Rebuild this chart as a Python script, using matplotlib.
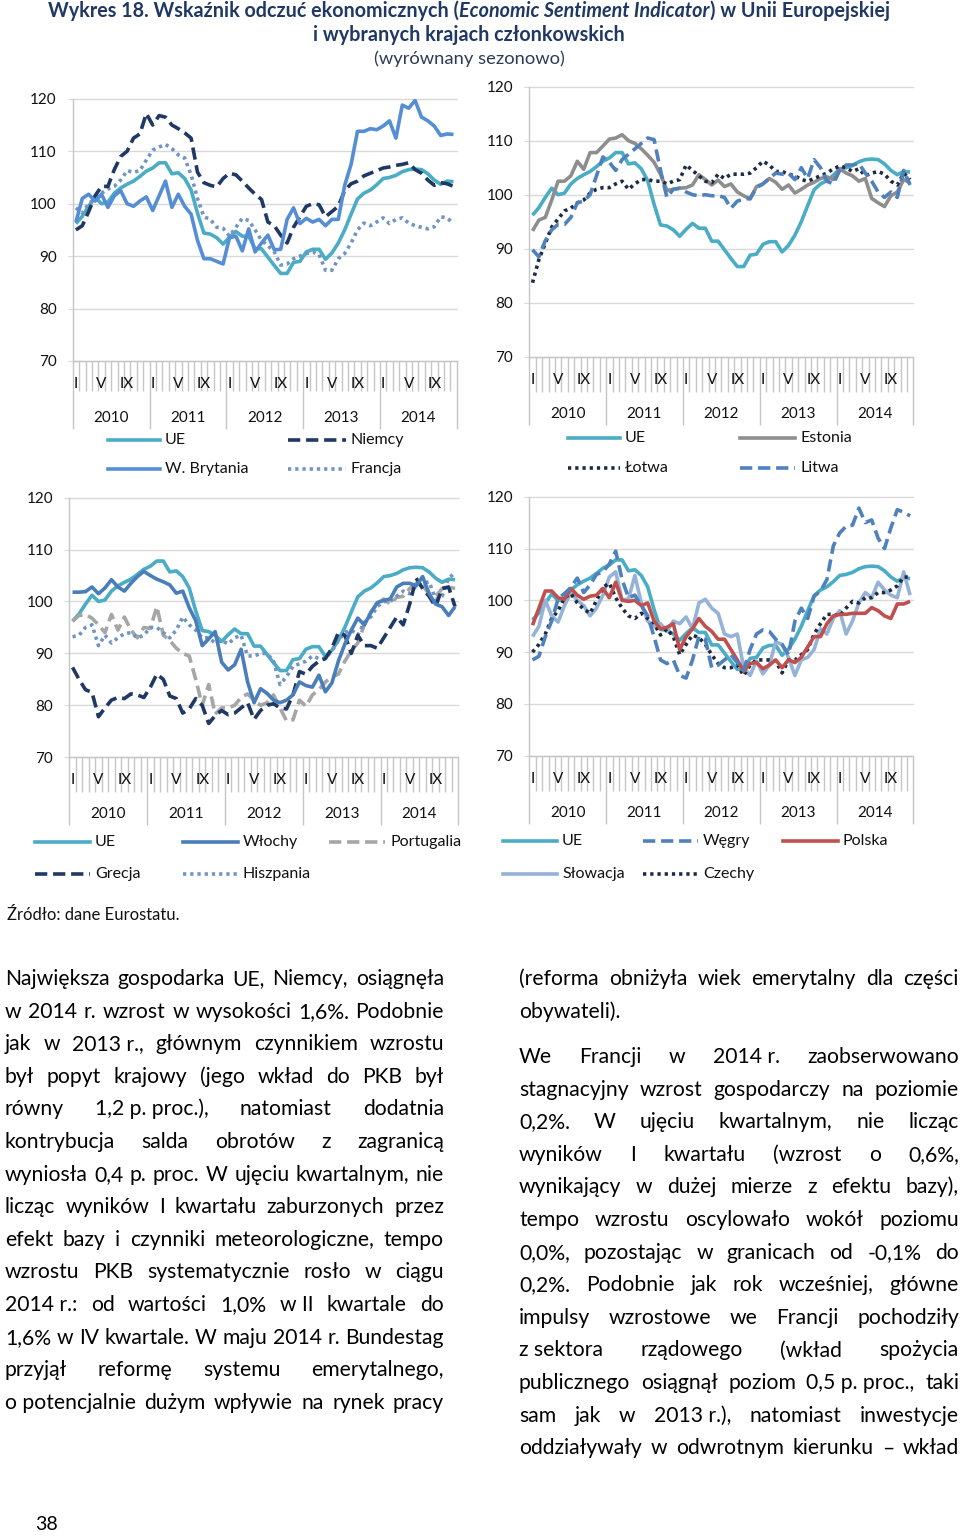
import numpy as np
import matplotlib.pyplot as plt
from matplotlib.lines import Line2D

plt.rcParams['font.family'] = ['Lato', 'DejaVu Sans']

W, H = 960, 1536

# ---- data: Economic Sentiment Indicator, I 2010 - XII 2014 (monthly, s.a.)
months = np.arange(60) + 0.5
month_labels = ['I', 'V', 'IX']
month_pos = [0, 4, 8]
years = ['2010', '2011', '2012', '2013', '2014']

ue = [96.2, 97.6, 99.5, 101.2, 100.0, 100.3, 102.0, 103.0, 103.7, 104.3,
      105.2, 106.2, 106.8, 107.8, 107.8, 105.7, 105.9, 104.8, 102.6, 98.2,
      94.4, 94.2, 93.5, 92.3, 93.6, 94.7, 93.8, 93.8, 91.4, 91.4,
      89.8, 88.2, 86.7, 86.7, 88.8, 89.0, 90.8, 91.3, 91.3, 89.4,
      90.6, 92.5, 95.0, 98.0, 100.9, 102.0, 102.6, 103.6, 104.8, 105.0,
      105.4, 106.1, 106.5, 106.6, 106.5, 105.7, 104.5, 103.7, 104.3, 104.2]

niemcy = [95.0, 95.8, 98.5, 101.5, 103.3, 103.3, 106.5, 109.0, 110.0, 112.5,
          113.3, 117.2, 115.0, 116.8, 116.5, 115.0, 114.3, 113.5, 112.5, 106.0,
          104.0, 103.5, 103.2, 104.8, 105.8, 105.5, 104.3, 103.0, 101.8, 100.8,
          96.5, 95.8, 94.0, 92.5, 95.5, 97.5, 99.5, 100.0, 99.8, 97.5,
          98.5, 99.5, 102.5, 103.8, 104.3, 105.3, 105.8, 106.3, 106.8, 107.0,
          107.3, 107.5, 107.8, 106.5, 105.8, 104.5, 103.5, 104.0, 103.8, 103.3]

w_brytania = [96.5, 101.0, 101.8, 100.5, 101.8, 99.3, 101.5, 102.5, 100.0, 99.5,
              100.5, 101.3, 98.7, 101.5, 104.3, 99.3, 101.8, 99.5, 98.0, 93.0,
              89.5, 89.5, 89.0, 88.5, 93.5, 93.8, 91.0, 95.2, 90.8, 92.5,
              94.0, 91.2, 91.3, 97.0, 99.2, 96.2, 97.2, 96.5, 97.0, 95.8,
              97.0, 97.0, 103.5, 107.5, 113.8, 113.8, 114.3, 114.1, 114.8, 115.8,
              112.5, 118.8, 118.2, 119.7, 116.5, 115.8, 114.8, 113.0, 113.3, 113.2]

francja = [99.2, 98.2, 100.0, 101.0, 102.0, 102.8, 103.3, 104.5, 106.3, 106.0,
           106.3, 108.3, 110.2, 110.8, 111.3, 110.5, 109.3, 108.7, 105.5, 101.0,
           97.5, 97.0, 95.5, 95.3, 93.8, 95.5, 97.2, 96.8, 95.0, 93.0,
           92.0, 90.8, 88.3, 88.5, 89.5, 90.0, 90.5, 90.8, 90.3, 87.3,
           87.3, 89.5, 90.5, 92.5, 95.0, 96.3, 95.8, 96.5, 97.3, 96.2,
           97.0, 97.3, 96.3, 95.8, 95.5, 95.2, 95.6, 97.5, 97.3, 96.2]

estonia = [93.3, 95.3, 95.8, 99.0, 102.5, 102.5, 103.5, 106.2, 104.7, 107.8,
           107.8, 109.0, 110.3, 110.5, 111.1, 110.0, 109.5, 108.5, 107.3, 106.0,
           103.8, 100.8, 101.0, 101.2, 101.3, 101.8, 103.7, 102.8, 101.8, 102.7,
           101.5, 102.0, 100.5, 99.8, 99.2, 101.5, 102.0, 103.0, 102.3, 101.0,
           101.8, 100.3, 101.0, 101.8, 102.3, 103.0, 103.3, 102.8, 104.8, 104.0,
           103.5, 102.5, 103.0, 99.3, 98.5, 97.8, 99.8, 100.5, 102.8, 102.2]

lotwa = [83.7, 88.0, 91.0, 94.0, 95.5, 97.0, 97.5, 98.5, 99.0, 100.3,
         101.0, 101.3, 101.3, 102.0, 102.5, 101.0, 102.0, 102.8, 102.8, 102.5,
         102.5, 102.0, 102.5, 102.8, 105.5, 104.5, 103.5, 102.5, 102.2, 103.8,
         103.0, 103.8, 103.8, 103.8, 104.0, 105.0, 106.2, 105.5, 104.3, 104.3,
         103.8, 103.5, 102.8, 102.5, 103.0, 103.5, 104.0, 104.8, 105.3, 105.0,
         104.3, 104.8, 103.5, 104.0, 104.3, 103.8, 102.5, 101.8, 104.0, 102.8]

litwa = [89.8, 88.5, 91.5, 93.5, 94.5, 94.5, 95.8, 98.5, 98.8, 100.0,
         103.5, 107.0, 106.0, 104.5, 106.5, 107.5, 108.5, 109.5, 110.5, 110.2,
         104.5, 99.5, 101.0, 101.2, 100.5, 100.0, 99.8, 100.0, 99.8, 99.8,
         99.5, 97.5, 98.8, 99.2, 99.3, 101.3, 102.0, 103.0, 104.0, 103.8,
         104.0, 102.8, 105.0, 103.0, 106.5, 105.0, 102.5, 102.0, 104.5, 105.5,
         105.5, 105.8, 104.0, 102.5, 100.5, 99.5, 100.5, 99.5, 104.5, 101.8]

wlochy = [101.8, 101.8, 101.9, 102.8, 101.5, 102.6, 104.2, 102.8, 102.0, 103.5,
          104.8, 105.8, 105.0, 104.3, 103.8, 103.2, 101.6, 102.0, 98.8, 96.3,
          91.5, 92.8, 94.2, 88.3, 86.8, 87.8, 90.8, 84.5, 80.5, 83.2,
          82.3, 81.0, 80.5, 81.0, 82.0, 84.5, 83.8, 83.5, 85.8, 82.6,
          84.3, 88.5, 91.8, 94.5, 96.8, 95.5, 97.8, 99.8, 100.2, 100.5,
          102.8, 103.5, 103.5, 103.0, 104.8, 101.5, 99.5, 99.0, 97.3, 99.0]

portugalia = [96.2, 97.3, 97.5, 96.8, 95.5, 94.0, 97.5, 94.5, 97.0, 94.5,
              93.0, 95.0, 94.8, 99.0, 93.5, 92.5, 91.0, 90.0, 89.5, 85.0,
              80.0, 84.0, 78.3, 79.5, 79.5, 80.0, 81.5, 82.2, 81.0, 80.0,
              80.5, 82.0, 79.5, 77.0, 77.2, 81.0, 79.8, 82.0, 83.0, 84.5,
              85.5, 86.0, 88.5, 90.5, 92.0, 95.5, 98.0, 99.5, 100.5, 99.5,
              100.8, 101.0, 102.5, 103.5, 103.0, 101.5, 101.0, 102.5, 102.8, 102.5]

grecja = [87.3, 85.0, 83.0, 82.5, 77.8, 79.5, 81.0, 81.5, 81.3, 82.2,
          82.0, 81.5, 83.5, 86.0, 85.0, 81.8, 81.3, 78.5, 79.3, 81.3,
          80.0, 76.5, 78.0, 79.0, 78.2, 78.5, 79.5, 80.5, 77.3, 79.0,
          80.0, 80.3, 79.5, 79.3, 82.0, 86.5, 86.0, 87.5, 88.5, 89.0,
          91.0, 94.0, 93.5, 90.0, 93.5, 91.5, 91.5, 91.0, 93.0, 95.0,
          97.0, 95.5, 99.5, 104.5, 102.5, 101.0, 99.0, 102.5, 102.8, 99.0]

hiszpania = [93.2, 93.5, 95.0, 95.5, 91.5, 93.5, 92.0, 93.0, 93.8, 94.0,
             93.0, 93.5, 95.0, 95.0, 94.0, 93.0, 94.5, 97.0, 95.5, 94.5,
             93.0, 93.0, 92.0, 92.5, 91.8, 93.0, 93.5, 89.5, 89.5, 90.0,
             90.0, 88.5, 84.0, 85.5, 87.5, 88.0, 88.5, 89.5, 89.0, 89.0,
             90.5, 92.5, 94.0, 94.5, 93.5, 96.0, 97.0, 99.0, 100.0, 100.0,
             101.0, 102.0, 101.5, 103.0, 103.5, 103.8, 100.5, 101.0, 104.5, 105.5]

wegry = [88.5, 89.2, 93.0, 96.0, 100.3, 101.3, 102.5, 104.3, 101.5, 103.0,
         105.0, 105.5, 107.0, 109.5, 104.0, 100.5, 101.0, 99.0, 97.0, 93.0,
         88.5, 87.8, 88.5, 85.5, 85.0, 88.5, 93.0, 92.5, 87.0, 87.5,
         88.5, 89.5, 88.0, 86.5, 90.5, 93.5, 94.3, 94.0, 92.5, 91.5,
         89.5, 96.0, 98.5, 96.5, 100.8, 101.8, 104.0, 110.5, 113.0, 114.3,
         114.5, 117.8, 115.0, 115.5, 112.0, 110.0, 114.0, 117.5, 117.0, 116.3]

polska = [95.2, 98.5, 101.8, 101.8, 100.5, 100.2, 102.3, 101.0, 100.2, 100.8,
          101.0, 102.3, 100.5, 103.5, 100.0, 99.8, 100.0, 99.0, 99.5, 96.0,
          94.5, 94.8, 95.5, 90.5, 93.0, 94.5, 96.5, 95.0, 94.0, 92.5,
          92.5, 90.5, 88.5, 86.3, 87.8, 88.0, 86.8, 87.5, 88.5, 87.0,
          88.5, 88.0, 89.0, 91.0, 93.0, 93.0, 95.5, 97.0, 97.3, 97.3,
          97.5, 97.5, 97.5, 98.6, 98.0, 97.0, 96.5, 99.3, 99.3, 99.8]

slowacja = [93.0, 95.0, 100.0, 97.0, 95.8, 99.0, 101.5, 100.0, 99.0, 97.0,
            98.5, 101.0, 104.5, 105.5, 100.0, 100.3, 104.8, 99.5, 96.0, 95.0,
            95.5, 94.0, 96.0, 95.5, 96.8, 94.5, 99.5, 100.2, 98.5, 97.5,
            93.5, 93.0, 93.5, 87.0, 85.5, 88.3, 85.8, 87.5, 92.0, 91.5,
            89.0, 85.5, 88.5, 89.0, 90.5, 94.5, 93.5, 96.5, 98.0, 93.5,
            96.0, 99.5, 101.5, 100.5, 103.5, 102.0, 101.0, 100.5, 105.5, 101.0]

czechy = [90.0, 91.5, 93.5, 96.5, 98.0, 100.5, 101.3, 99.5, 98.3, 97.5,
          100.0, 102.5, 103.3, 100.5, 98.5, 97.0, 96.5, 97.5, 96.5, 95.5,
          93.3, 94.5, 93.0, 89.5, 91.5, 93.3, 92.8, 91.5, 89.5, 87.8,
          87.0, 87.0, 87.5, 85.5, 87.5, 88.5, 88.5, 88.5, 88.3, 86.0,
          88.5, 88.5, 89.5, 90.5, 93.5, 95.5, 97.3, 97.3, 97.0, 98.5,
          99.8, 99.5, 100.5, 100.5, 101.5, 101.5, 102.0, 102.8, 104.5, 104.5]

# ---- styles
GRID = '#D9D9D9'
AXIS = '#C6C6C6'
LW = 2.6
SOLID = '-'
DASH = (0, (3.4, 1.6))
DOT = (0, (0.9, 1.1))

TEAL = '#4BACC6'
NAVY = '#1F3864'
DARK = '#1E2A44'

fig = plt.figure(figsize=(9.6, 15.36), dpi=100)
renderer = fig.canvas.get_renderer()


def make_panel(left, right, top, bottom, tick_len):
    ax = fig.add_axes([left / W, 1 - bottom / H, (right - left) / W, (bottom - top) / H])
    ax.set_xlim(0, 60)
    ax.set_ylim(70, 120)
    ax.set_yticks(range(70, 121, 10))
    ax.yaxis.grid(True, color=GRID, lw=1)
    for gl in ax.get_ygridlines():
        gl.set_clip_on(False)
    ax.set_axisbelow(True)
    for s in ('top', 'right'):
        ax.spines[s].set_visible(False)
    for s in ('left', 'bottom'):
        ax.spines[s].set_color(AXIS)
        ax.spines[s].set_linewidth(1)
    ax.tick_params(axis='y', length=3.6, color=GRID, labelsize=11, pad=8, labelcolor='#111111')
    ax.set_xticks(range(0, 61, 12))
    ax.set_xticks(range(61), minor=True)
    ax.tick_params(axis='x', which='major', length=49, color=AXIS, width=1, labelbottom=False)
    ax.tick_params(axis='x', which='minor', length=tick_len, color=AXIS, width=1)
    for yi, yr in enumerate(years):
        for m, lab in zip(month_pos, month_labels):
            ax.annotate(lab, xy=(12 * yi + m + 0.5, 0), xycoords=('data', 'axes fraction'),
                        xytext=(0, -23), textcoords='offset pixels',
                        ha='center', va='center', fontsize=11, color='#111111')
        ax.annotate(yr, xy=(12 * yi + 6, 0), xycoords=('data', 'axes fraction'),
                    xytext=(0, -57), textcoords='offset pixels',
                    ha='center', va='center', fontsize=11, color='#111111')
    return ax


def legend_item(x0, x1, y, label, style):
    fig.add_artist(Line2D([x0 / W, x1 / W], [1 - y / H, 1 - y / H],
                          transform=fig.transFigure, **style))
    fig.text((x1 + 5) / W, 1 - y / H, label, ha='left', va='center',
             fontsize=11.5, color='#111111')


def st(color, ls, lw=LW):
    return dict(color=color, ls=ls, lw=lw)


panels = [
    dict(box=(72.7, 456.7, 98.8, 361.0), tl=21.5,
         series=[(ue, 'UE', st(TEAL, SOLID)),
                 (francja, 'Francja', st('#7094C4', DOT)),
                 (niemcy, 'Niemcy', st(NAVY, DASH)),
                 (w_brytania, 'W. Brytania', st('#558ED5', SOLID))],
         legend=[(108, 160, 440, 'UE'), (288, 346, 440, 'Niemcy'),
                 (108, 160, 469, 'W. Brytania'), (288, 346, 469, 'Francja')]),
    dict(box=(529.3, 913.3, 86.7, 356.7), tl=25,
         series=[(ue, 'UE', st(TEAL, SOLID)),
                 (estonia, 'Estonia', st('#8E8E8E', SOLID)),
                 (lotwa, 'Łotwa', st(DARK, DOT)),
                 (litwa, 'Litwa', st('#4F81BD', DASH))],
         legend=[(568, 620, 438, 'UE'), (740, 795, 438, 'Estonia'),
                 (568, 620, 468, 'Łotwa'), (740, 795, 468, 'Litwa')]),
    dict(box=(69.3, 458.3, 497.7, 757.2), tl=25,
         series=[(ue, 'UE', st(TEAL, SOLID)),
                 (portugalia, 'Portugalia', st('#A6A6A6', DASH)),
                 (hiszpania, 'Hiszpania', st('#7094C4', DOT)),
                 (grecja, 'Grecja', st(NAVY, DASH)),
                 (wlochy, 'Włochy', st('#4A7EBB', SOLID))],
         legend=[(35, 90, 842, 'UE'), (183, 238, 842, 'Włochy'), (329, 385, 842, 'Portugalia'),
                 (35, 90, 874, 'Grecja'), (183, 238, 874, 'Hiszpania')]),
    dict(box=(529.3, 913.3, 496.7, 755.8), tl=25,
         series=[(ue, 'UE', st(TEAL, SOLID)),
                 (slowacja, 'Słowacja', st('#95B3D7', SOLID)),
                 (czechy, 'Czechy', st(DARK, DOT)),
                 (polska, 'Polska', st('#C0504D', SOLID)),
                 (wegry, 'Węgry', st('#4F81BD', DASH))],
         legend=[(503, 557, 841, 'UE'), (643, 698, 841, 'Węgry'), (783, 838, 841, 'Polska'),
                 (503, 557, 874, 'Słowacja'), (643, 698, 874, 'Czechy')]),
]

for p in panels:
    ax = make_panel(*p['box'], p['tl'])
    styles = {}
    for vals, name, style in p['series']:
        ax.plot(months, vals, solid_capstyle='butt', dash_capstyle='butt', **style)
        styles[name] = style
    for x0, x1, y, name in p['legend']:
        legend_item(x0, x1, y, name, styles[name])

# ---- title
TITLE_C = '#1F3864'
parts = [('Wykres 18. Wskaźnik odczuć ekonomicznych (', 'normal'),
         ('Economic Sentiment Indicator', 'italic'),
         (') w Unii Europejskiej', 'normal')]
probe = [fig.text(0, 0, t, fontsize=10, fontweight='bold', fontstyle=s) for t, s in parts]
total = sum(t.get_window_extent(renderer).width for t in probe)
for t in probe:
    t.remove()
tsize = 10 * 842 / total
objs = [fig.text(0, 1 - 11 / H, t, fontsize=tsize, fontweight='bold', fontstyle=s,
                 color=TITLE_C, va='center', ha='left') for t, s in parts]
widths = [o.get_window_extent(renderer).width for o in objs]
x = 469 - sum(widths) / 2
for o, w in zip(objs, widths):
    o.set_x(x / W)
    x += w
fig.text(469 / W, 1 - 35 / H, 'i wybranych krajach członkowskich', fontsize=tsize,
         fontweight='bold', color=TITLE_C, ha='center', va='center')
fig.text(469 / W, 1 - 59 / H, '(wyrównany sezonowo)', fontsize=tsize * 0.93,
         color='#2E3B55', ha='center', va='center')

fig.text(7 / W, 1 - 915 / H, 'Źródło: dane Eurostatu.', fontsize=12,
         ha='left', va='center', color='#111111')

# ---- body text
left_lines = [
    'Największa gospodarka UE, Niemcy, osiągnęła',
    'w 2014 r. wzrost w wysokości 1,6%. Podobnie',
    'jak w 2013~r., głównym czynnikiem wzrostu',
    'był popyt krajowy (jego wkład do PKB był',
    'równy 1,2~p.~proc.), natomiast dodatnia',
    'kontrybucja salda obrotów z zagranicą',
    'wyniosła 0,4 p. proc. W ujęciu kwartalnym, nie',
    'licząc wyników I kwartału zaburzonych przez',
    'efekt bazy i czynniki meteorologiczne, tempo',
    'wzrostu PKB systematycznie rosło w ciągu',
    '2014~r.: od wartości 1,0% w~II kwartale do',
    '1,6% w IV kwartale. W maju 2014 r. Bundestag',
    'przyjął reformę systemu emerytalnego,',
    'o~potencjalnie dużym wpływie na rynek pracy',
]
right_lines = [
    '(reforma obniżyła wiek emerytalny dla części',
    'obywateli).',
    'We Francji w 2014~r. zaobserwowano',
    'stagnacyjny wzrost gospodarczy na poziomie',
    '0,2%. W ujęciu kwartalnym, nie licząc',
    'wyników I kwartału (wzrost o 0,6%,',
    'wynikający w dużej mierze z efektu bazy),',
    'tempo wzrostu oscylowało wokół poziomu',
    '0,0%, pozostając w granicach od -0,1% do',
    '0,2%. Podobnie jak rok wcześniej, główne',
    'impulsy wzrostowe we Francji pochodziły',
    'z~sektora rządowego (wkład spożycia',
    'publicznego osiągnął poziom 0,5~p.~proc., taki',
    'sam jak w 2013~r.), natomiast inwestycje',
    'oddziaływały w odwrotnym kierunku – wkład',
]

probe = fig.text(0, 0, '1,6% w IV kwartale. W maju 2014 r. Bundestag', fontsize=10)
bsize = 10 * 437 / probe.get_window_extent(renderer).width
probe.remove()


def justify(line, x0, x1, y, justified=True):
    words = [w.replace('~', ' ') for w in line.split(' ')]
    if not justified or len(words) == 1:
        fig.text(x0 / W, 1 - y / H, line.replace('~', ' '), fontsize=bsize,
                 ha='left', va='baseline', color='black')
        return
    objs = [fig.text(0, 1 - y / H, w, fontsize=bsize, ha='left', va='baseline', color='black')
            for w in words]
    ws = [o.get_window_extent(renderer).width for o in objs]
    gap = (x1 - x0 - sum(ws)) / (len(words) - 1)
    x = x0
    for o, w in zip(objs, ws):
        o.set_x(x / W)
        x += w + gap


for k, line in enumerate(left_lines):
    justify(line, 5, 444, 985 + 32.6 * k)

for k, line in enumerate(right_lines):
    if k < 2:
        y = 985 + 32.6 * k
    else:
        y = 1063 + 32.6 * (k - 2)
    justify(line, 519, 959, y, justified=(k != 1))

fig.text(35 / W, 1 - 1525 / H, '38', fontsize=14, ha='left', va='center', color='black')

fig.savefig('out.png', dpi=100)
